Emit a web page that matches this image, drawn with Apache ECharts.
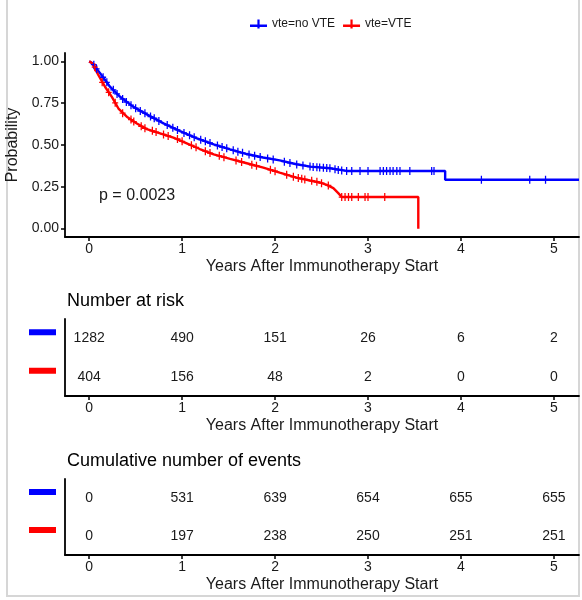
<!DOCTYPE html>
<html>
<head>
<meta charset="utf-8">
<script src="https://cdn.jsdelivr.net/npm/echarts@6/dist/echarts.min.js"></script>
<style>html,body{margin:0;padding:0;background:#fff;}#c{width:582px;height:600px;}</style>
</head>
<body>
<div id="c"></div>
<script>
// ---- Data ----
const groupNames = ['vte=no VTE', 'vte=VTE'];
const rowKeys = ['no VTE', 'VTE'];
const timeTicks = [0, 1, 2, 3, 4, 5];
const probTicks = [0, 0.25, 0.5, 0.75, 1];

// KM curve (years, survival probability)
const kmNoVTE = [[0,1],[0.03,0.99],[0.12,0.927],[0.226,0.847],[0.333,0.788],[0.476,0.728],[0.62,0.683],[0.80,0.629],[0.978,0.583],[1.16,0.54],[1.34,0.504],[1.516,0.474],[1.695,0.446],[1.87,0.425],[2.05,0.408],[2.23,0.385],[2.38,0.371],[2.59,0.361],[2.77,0.345],[3.83,0.345],[3.83,0.292],[5.27,0.292]];
const kmVTE = [[0,1],[0.03,0.99],[0.10,0.917],[0.172,0.847],[0.244,0.788],[0.315,0.718],[0.405,0.669],[0.513,0.629],[0.62,0.595],[0.763,0.57],[0.906,0.544],[1.05,0.51],[1.19,0.476],[1.34,0.444],[1.516,0.417],[1.695,0.391],[1.874,0.365],[2.05,0.335],[2.23,0.305],[2.376,0.288],[2.48,0.276],[2.556,0.262],[2.627,0.242],[2.68,0.212],[2.717,0.189],[3.541,0.189],[3.541,0]];

// censoring marks
const censorNoVTE = [[0.05,0.98],[0.08,0.955],[0.15,0.905],[0.19,0.875],[0.26,0.83],[0.30,0.805],[0.36,0.775],[0.40,0.757],[0.45,0.738],[0.50,0.72],[0.55,0.703],[0.60,0.69],[0.66,0.67],[0.70,0.66],[0.75,0.644],[0.84,0.619],[0.90,0.603],[0.95,0.59],[1.02,0.572],[1.08,0.558],[1.13,0.547],[1.20,0.532],[1.25,0.522],[1.30,0.512],[1.38,0.497],[1.43,0.488],[1.48,0.48],[1.55,0.468],[1.60,0.46],[1.65,0.453],[1.72,0.443],[1.78,0.435],[1.84,0.428],[1.92,0.42],[1.98,0.414],[2.10,0.40],[2.16,0.393],[2.233,0.384],[2.30,0.378],[2.376,0.371],[2.41,0.369],[2.45,0.367],[2.48,0.366],[2.52,0.364],[2.556,0.362],[2.59,0.361],[2.645,0.355],[2.68,0.351],[2.717,0.348],[2.77,0.345],[2.825,0.345],[2.914,0.345],[3.00,0.345],[3.13,0.345],[3.165,0.345],[3.20,0.345],[3.237,0.345],[3.27,0.345],[3.31,0.345],[3.344,0.345],[3.45,0.345],[3.685,0.345],[3.71,0.345],[4.22,0.292],[4.74,0.292],[4.91,0.292]];
const censorVTE = [[0.06,0.965],[0.14,0.875],[0.21,0.815],[0.28,0.752],[0.36,0.69],[0.45,0.652],[0.48,0.64],[0.56,0.612],[0.60,0.60],[0.68,0.585],[0.72,0.577],[0.80,0.563],[0.85,0.554],[0.95,0.536],[1.00,0.522],[1.10,0.498],[1.15,0.486],[1.25,0.463],[1.30,0.452],[1.40,0.435],[1.45,0.427],[1.58,0.408],[1.64,0.399],[1.75,0.382],[1.80,0.376],[1.95,0.352],[2.00,0.343],[2.125,0.322],[2.197,0.31],[2.25,0.302],[2.287,0.298],[2.32,0.294],[2.394,0.286],[2.45,0.28],[2.50,0.272],[2.573,0.258],[2.717,0.189],[2.753,0.189],[2.79,0.189],[2.825,0.189],[2.896,0.189],[2.968,0.189],[3.00,0.189],[3.18,0.189]];

// tables
const atRiskNoVTE = [1282, 490, 151, 26, 6, 2];
const atRiskVTE = [404, 156, 48, 2, 0, 0];
const eventsNoVTE = [0, 531, 639, 654, 655, 655];
const eventsVTE = [0, 197, 238, 250, 251, 251];

const pText = 'p = 0.0023';
const xTitle = 'Years After Immunotherapy Start';

// ---- Chart ----
const BLUE = '#0000ff', RED = '#ff0000', INK = '#1a1a1a';
const FONT = '"Liberation Sans", Arial, sans-serif';
const PLUS = 'path://M3,0h1.6v10h-1.6z M0,4.2h7.6v1.6h-7.6z';
const LEG = 'path://M0,5h17v2.6h-17z M7.4,0h2.2v9h-2.2z';

function xAx(gi) {
  return {
    type: 'value', gridIndex: gi, min: -0.26, max: 5.27,
    name: xTitle, nameLocation: 'middle', nameGap: 22,
    nameTextStyle: { fontSize: 16, color: INK, fontFamily: FONT },
    axisLine: { show: true, onZero: false, lineStyle: { color: '#000', width: 1.8 } },
    axisTick: { show: true, length: 4, customValues: timeTicks, lineStyle: { color: '#000', width: 1.5 } },
    axisLabel: { customValues: timeTicks, fontSize: 14, color: INK, fontFamily: FONT, margin: 5 },
    splitLine: { show: false }
  };
}
function tableY(gi) {
  return {
    type: 'category', gridIndex: gi, data: rowKeys, inverse: true,
    axisLine: { show: true, onZero: false, lineStyle: { color: '#000', width: 1.8 } },
    axisTick: { show: false },
    axisLabel: {
      margin: 9, verticalAlign: 'bottom', padding: [0, 0, 3, 0],
      formatter: (v) => v === rowKeys[0] ? '{b|}' : '{r|}',
      rich: {
        b: { width: 27, height: 6, backgroundColor: BLUE },
        r: { width: 27, height: 6, backgroundColor: RED }
      }
    },
    splitLine: { show: false }
  };
}
function tableSeries(gi, arr, key) {
  return {
    type: 'scatter', xAxisIndex: gi, yAxisIndex: gi, symbolSize: 1, silent: true,
    itemStyle: { opacity: 0 },
    data: timeTicks.map((t, i) => [t, key, arr[i]]),
    label: { show: true, position: 'inside', formatter: (p) => String(p.value[2]),
      fontSize: 14, color: INK, opacity: 1, fontFamily: FONT }
  };
}

const option = {
  animation: false,
  backgroundColor: '#fff',
  textStyle: { fontFamily: FONT },
  legend: {
    left: 245, top: 13, itemWidth: 17, itemHeight: 9, itemGap: 8,
    textStyle: { fontSize: 12, color: INK, fontFamily: FONT },
    data: [
      { name: groupNames[0], icon: LEG },
      { name: groupNames[1], icon: LEG }
    ]
  },
  grid: [
    { left: 65, right: 3, top: 53, height: 184 },
    { left: 65, right: 3, top: 319, height: 77 },
    { left: 65, right: 3, top: 479, height: 76 }
  ],
  xAxis: [xAx(0), xAx(1), xAx(2)],
  yAxis: [
    {
      type: 'value', gridIndex: 0, min: -0.05, max: 1.05,
      axisLine: { show: true, onZero: false, lineStyle: { color: '#000', width: 1.8 } },
      axisTick: { show: true, length: 4, customValues: probTicks, lineStyle: { color: '#000', width: 1.5 } },
      axisLabel: { customValues: probTicks, formatter: (v) => v.toFixed(2), fontSize: 14, color: INK, fontFamily: FONT, margin: 6 },
      splitLine: { show: false }
    },
    tableY(1), tableY(2)
  ],
  series: [
    { name: groupNames[0], type: 'line', data: kmNoVTE, symbol: 'none', color: BLUE, lineStyle: { width: 2.4 }, z: 3 },
    { name: groupNames[1], type: 'line', data: kmVTE, symbol: 'none', color: RED, lineStyle: { width: 2.4 }, z: 3 },
    { name: groupNames[0], type: 'scatter', data: censorNoVTE, symbol: PLUS, symbolSize: [6, 8], color: BLUE, itemStyle: { opacity: 1 }, z: 4, silent: true },
    { name: groupNames[1], type: 'scatter', data: censorVTE, symbol: PLUS, symbolSize: [6, 8], color: RED, itemStyle: { opacity: 1 }, z: 4, silent: true },
    tableSeries(1, atRiskNoVTE, rowKeys[0]),
    tableSeries(1, atRiskVTE, rowKeys[1]),
    tableSeries(2, eventsNoVTE, rowKeys[0]),
    tableSeries(2, eventsVTE, rowKeys[1])
  ],
  graphic: [
    { type: 'rect', shape: { x: 7, y: -4, width: 572, height: 600 }, style: { fill: 'none', stroke: '#d6d6d6', lineWidth: 2 }, silent: true },
    { type: 'text', x: 13, y: 145, rotation: Math.PI / 2,
      style: { text: 'Probability', fontSize: 16, fill: INK, fontFamily: FONT, align: 'center', verticalAlign: 'middle' } },
    { type: 'text', x: 99, y: 196,
      style: { text: pText, fontSize: 16, fill: INK, fontFamily: FONT, align: 'left', verticalAlign: 'middle' } },
    { type: 'text', x: 67, y: 301,
      style: { text: 'Number at risk', fontSize: 18, fill: '#000', fontFamily: FONT, align: 'left', verticalAlign: 'middle' } },
    { type: 'text', x: 67, y: 461,
      style: { text: 'Cumulative number of events', fontSize: 18, fill: '#000', fontFamily: FONT, align: 'left', verticalAlign: 'middle' } }
  ]
};

const chart = echarts.init(document.getElementById('c'), null, { renderer: 'canvas' });
chart.setOption(option);
</script>
</body>
</html>
